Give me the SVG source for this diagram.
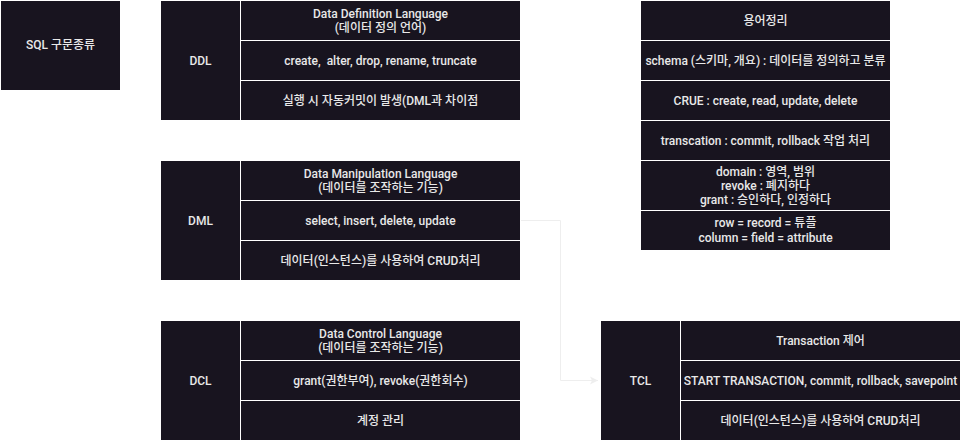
<svg xmlns="http://www.w3.org/2000/svg" width="961" height="441" viewBox="0 0 961 441">
<style>
.c{fill:#18141f;stroke:#ffffff;stroke-width:1}
.t{font-family:Roboto,"Noto Sans CJK KR",sans-serif;font-size:12px;font-weight:500;fill:#e8e8e8;text-anchor:middle;white-space:pre}
.e{fill:none;stroke:#eeeeee;stroke-width:1}
</style>
<defs>
<marker id="a" markerWidth="10" markerHeight="10" refX="8" refY="5" orient="auto" markerUnits="userSpaceOnUse">
<path d="M0,1 L8,5 L0,9 L2,5 Z" fill="#eeeeee"/>
</marker>
</defs>
<rect width="961" height="441" fill="#ffffff"/>
<g id="edges">
<path class="e" d="M520,220.5 H560.5 V380.5 H598" marker-end="url(#a)"/>
</g>
<g id="sql">
<rect class="c" x="0.5" y="0.5" width="120" height="90"/>
<text class="t" x="60.5" y="49">SQL 구문종류</text>
</g>
<g id="ddl">
<rect class="c" x="160.5" y="0.5" width="80" height="120"/>
<rect class="c" x="240.5" y="0.5" width="280" height="40"/>
<rect class="c" x="240.5" y="40.5" width="280" height="40"/>
<rect class="c" x="240.5" y="80.5" width="280" height="40"/>
<text class="t" x="200.5" y="65">DDL</text>
<text class="t" x="380.5" y="18">Data Definition Language</text>
<text class="t" x="380.5" y="32">(데이터 정의 언어)</text>
<text class="t" x="380.5" y="65" xml:space="preserve">create,  alter, drop, rename, truncate</text>
<text class="t" x="380.5" y="105">실행 시 자동커밋이 발생(DML과 차이점</text>
</g>
<g id="dml">
<rect class="c" x="160.5" y="160.5" width="80" height="120"/>
<rect class="c" x="240.5" y="160.5" width="280" height="40"/>
<rect class="c" x="240.5" y="200.5" width="280" height="40"/>
<rect class="c" x="240.5" y="240.5" width="280" height="40"/>
<text class="t" x="200.5" y="225">DML</text>
<text class="t" x="380.5" y="178">Data Manipulation Language</text>
<text class="t" x="380.5" y="192">(데이터를 조작하는 기능)</text>
<text class="t" x="380.5" y="225">select, insert, delete, update</text>
<text class="t" x="380.5" y="265">데이터(인스턴스)를 사용하여 CRUD처리</text>
</g>
<g id="dcl">
<rect class="c" x="160.5" y="320.5" width="80" height="120"/>
<rect class="c" x="240.5" y="320.5" width="280" height="40"/>
<rect class="c" x="240.5" y="360.5" width="280" height="40"/>
<rect class="c" x="240.5" y="400.5" width="280" height="40"/>
<text class="t" x="200.5" y="385">DCL</text>
<text class="t" x="380.5" y="338">Data Control Language</text>
<text class="t" x="380.5" y="352">(데이터를 조작하는 기능)</text>
<text class="t" x="380.5" y="385">grant(권한부여), revoke(권한회수)</text>
<text class="t" x="380.5" y="425">계정 관리</text>
</g>
<g id="terms">
<rect class="c" x="640.5" y="0.5" width="250" height="40"/>
<rect class="c" x="640.5" y="40.5" width="250" height="40"/>
<rect class="c" x="640.5" y="80.5" width="250" height="40"/>
<rect class="c" x="640.5" y="120.5" width="250" height="40"/>
<rect class="c" x="640.5" y="160.5" width="250" height="50"/>
<rect class="c" x="640.5" y="210.5" width="250" height="40"/>
<text class="t" x="765.5" y="25">용어정리</text>
<text class="t" x="765.5" y="65">schema (스키마, 개요) : 데이터를 정의하고 분류</text>
<text class="t" x="765.5" y="105">CRUE : create, read, update, delete</text>
<text class="t" x="765.5" y="145">transcation : commit, rollback 작업 처리</text>
<text class="t" x="765.5" y="176">domain : 영역, 범위</text>
<text class="t" x="765.5" y="190">revoke : 폐지하다</text>
<text class="t" x="765.5" y="204">grant : 승인하다, 인정하다</text>
<text class="t" x="765.5" y="227">row = record = 튜플</text>
<text class="t" x="765.5" y="242">column = field = attribute</text>
</g>
<g id="tcl">
<rect class="c" x="600.5" y="320.5" width="80" height="120"/>
<rect class="c" x="680.5" y="320.5" width="280" height="40"/>
<rect class="c" x="680.5" y="360.5" width="280" height="40"/>
<rect class="c" x="680.5" y="400.5" width="280" height="40"/>
<text class="t" x="640.5" y="385">TCL</text>
<text class="t" x="820.5" y="345">Transaction 제어</text>
<text class="t" x="820.5" y="385">START TRANSACTION, commit, rollback, savepoint</text>
<text class="t" x="820.5" y="425">데이터(인스턴스)를 사용하여 CRUD처리</text>
</g>
</svg>
